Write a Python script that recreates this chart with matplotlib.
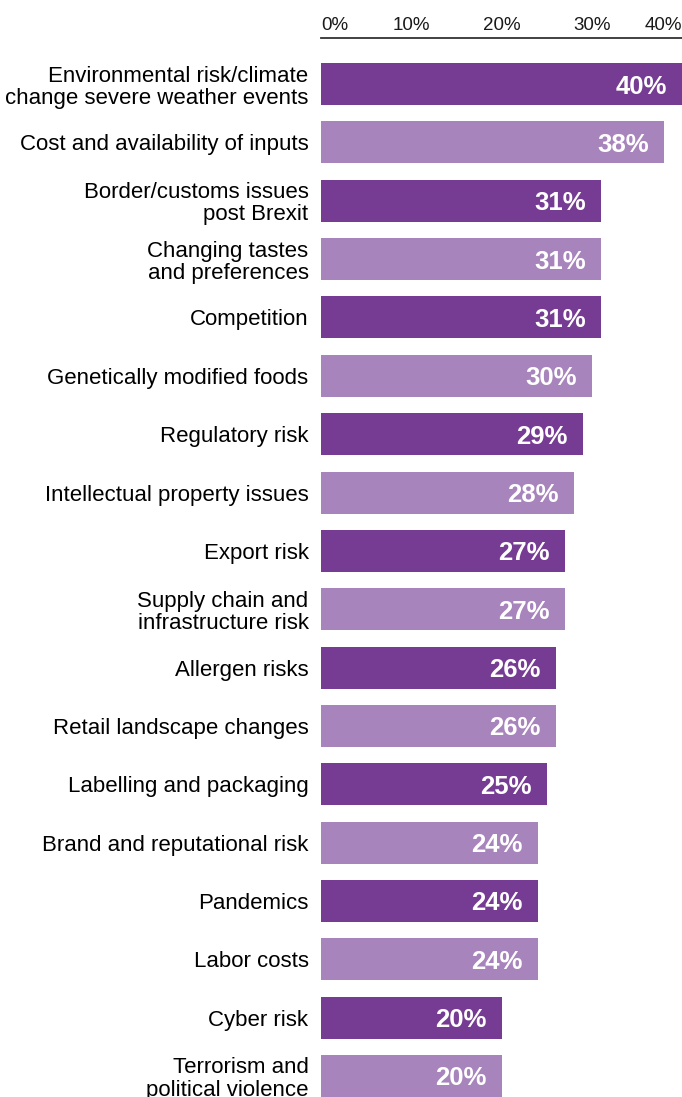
import matplotlib.pyplot as plt
import numpy as np

plt.rcParams['font.family'] = ['Liberation Sans', 'DejaVu Sans']

categories = [
    "Environmental risk/climate\nchange severe weather events",
    "Cost and availability of inputs",
    "Border/customs issues\npost Brexit",
    "Changing tastes\nand preferences",
    "Competition",
    "Genetically modified foods",
    "Regulatory risk",
    "Intellectual property issues",
    "Export risk",
    "Supply chain and\ninfrastructure risk",
    "Allergen risks",
    "Retail landscape changes",
    "Labelling and packaging",
    "Brand and reputational risk",
    "Pandemics",
    "Labor costs",
    "Cyber risk",
    "Terrorism and\npolitical violence",
]
values = [40, 38, 31, 31, 31, 30, 29, 28, 27, 27, 26, 26, 25, 24, 24, 24, 20, 20]
tick_values = [0, 10, 20, 30, 40]
tick_labels = ["0%", "10%", "20%", "30%", "40%"]

dark = "#763c93"
light = "#a884bd"

fig = plt.figure(figsize=(6.82, 10.97), dpi=100)
ax = fig.add_axes([321 / 682, 0, 1 - 321 / 682, 1 - 38 / 1097])

y = np.arange(len(values))
colors = [dark if i % 2 == 0 else light for i in range(len(values))]
ax.barh(y, values, height=0.72, color=colors)

ax.set_xlim(0, 40)
ax.set_ylim(17.36, -0.79)

# value labels inside the bar ends
for yi, v in zip(y, values):
    ax.annotate(f"{v}%", xy=(v, yi), xytext=(-15, 0), textcoords="offset pixels",
                ha="right", va="center_baseline", color="white", fontsize=18.5,
                fontweight="bold")

ax.set_yticks(y)
ax.set_yticklabels(categories, fontsize=16, linespacing=1.07)
ax.tick_params(axis="y", length=0, pad=9)

ax.xaxis.tick_top()
ax.set_xticks(tick_values)
ax.set_xticklabels(tick_labels, fontsize=13.5, color="#1a1a1a")
ax.tick_params(axis="x", length=0, pad=3)
lbls = ax.get_xticklabels()
lbls[0].set_ha("left")
lbls[-1].set_ha("right")

for s in ["left", "right", "bottom"]:
    ax.spines[s].set_visible(False)
ax.spines["top"].set_color("#333333")
ax.spines["top"].set_linewidth(1.3)

fig.savefig("out.png", dpi=100)
